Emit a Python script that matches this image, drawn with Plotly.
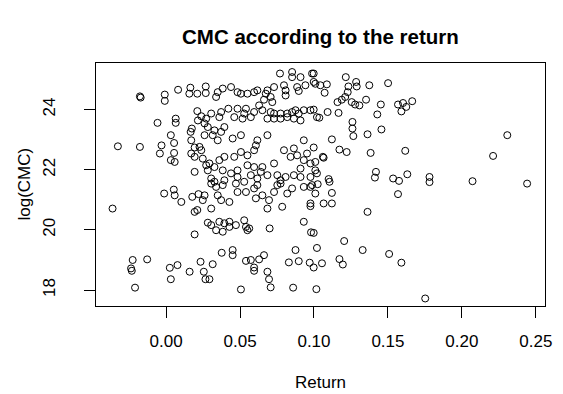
import plotly.graph_objects as go

# Annual return of each asset and the log of its market capitalisation
returns = [
    -0.0177, -0.0172, -0.0009, -0.0009, 0.0081, 0.0164, 0.0157, 0.0211, 0.0268, 0.0268,
    -0.0058, 0.0065, 0.0065, 0.0211, 0.0238, 0.0215, 0.0260, 0.0032, 0.0174, 0.0166,
    0.0260, -0.0326, -0.0177, -0.0031, -0.0042, 0.0054, 0.0054, 0.0032, 0.0058, 0.0170,
    0.0193, 0.0226, 0.0238, 0.0170, 0.0193, 0.0248, 0.0193, 0.0271,
    -0.0362, -0.0013, 0.0052, 0.0058, 0.0103, 0.0177, 0.0219, 0.0248, 0.0260, 0.0193,
    0.0211, 0.0282, 0.0193, -0.0226, -0.0128, -0.0237, -0.0232, 0.0025, 0.0077, 0.0032,
    0.0159, 0.0233, 0.0255, 0.0266, -0.0210,
    0.0998, 0.1215, 0.1009, 0.1043, 0.1087, 0.1233, 0.1285, 0.1289, 0.1072, 0.1228,
    0.1374, 0.1501, 0.1211, 0.1188, 0.1159, 0.1255, 0.1278, 0.1307, 0.1352, 0.1452,
    0.1568, 0.1602, 0.1624, 0.1591, 0.1664, 0.0998, 0.1036, 0.1092, 0.1166, 0.1428,
    0.1260, 0.1260, 0.1266, 0.1362, 0.1456, 0.1121, 0.0998, 0.1172, 0.1221, 0.1383,
    0.1617, 0.1060, 0.1065, 0.1009, 0.1009, 0.1419, 0.1412, 0.1631, 0.1535, 0.1575,
    0.1099, 0.1105,
    0.1025, 0.1009, 0.1121, 0.1065, 0.1121, 0.1568, 0.1362, 0.0998, 0.1204, 0.1020,
    0.1329, 0.1508, 0.1172, 0.1195, 0.1591, 0.1054, 0.0998, 0.1016, 0.1752,
    0.2307, 0.2211, 0.1781, 0.1781, 0.2072, 0.2441,
    0.0305, 0.0338, 0.0383, 0.0349, 0.0372, 0.0305, 0.0428, 0.0483, 0.0472, 0.0528,
    0.0540, 0.0595, 0.0617, 0.0607, 0.0651, 0.0685, 0.0696, 0.0730, 0.0752, 0.0774,
    0.0819, 0.0852, 0.0785, 0.0931, 0.0976, 0.0976, 0.0976,
    0.0305, 0.0338, 0.0360, 0.0383, 0.0394, 0.0428, 0.0428, 0.0472, 0.0528, 0.0540,
    0.0550, 0.0562, 0.0700, 0.0931, 0.0980,
    0.0376, 0.0450, 0.0450, 0.0540, 0.0573, 0.0595, 0.0595, 0.0629, 0.0662, 0.0315,
    0.0685, 0.0696, 0.0830, 0.0875, 0.0897, 0.0971, 0.0293,
    0.0506, 0.0707, 0.0859,
    0.0770, 0.0852, 0.0852, 0.0909, 0.0987, 0.0998, 0.0942, 0.0886, 0.0897, 0.0797,
    0.0808, 0.0730, 0.0685, 0.0674, 0.0617, 0.0595, 0.0550, 0.0483, 0.0506, 0.0439,
    0.0383, 0.0349, 0.0338, 0.0662, 0.0707, 0.0808, 0.0718,
    0.0421, 0.0483, 0.0540, 0.0595, 0.0629, 0.0651, 0.0707, 0.0730, 0.0774, 0.0819,
    0.0852, 0.0875, 0.0897, 0.0931, 0.0976, 0.1020, 0.0305, 0.0271, 0.0372, 0.0360,
    0.0461, 0.0517, 0.0573, 0.0528, 0.0685, 0.0730, 0.0774, 0.0819, 0.0864, 0.0909,
    0.0282, 0.0327, 0.0315, 0.0372, 0.0394, 0.0349, 0.0450, 0.0506, 0.0617, 0.0685,
    0.0607, 0.0595, 0.0550, 0.0506, 0.0461, 0.0797, 0.0864, 0.0931, 0.0953, 0.0886,
    0.0842, 0.0931, 0.0976,
    0.0293, 0.0360, 0.0394, 0.0282, 0.0327, 0.0383, 0.0439, 0.0483, 0.0550, 0.0595,
    0.0651, 0.0640, 0.0685, 0.0730, 0.0752, 0.0808, 0.0864, 0.0909, 0.0909, 0.0976,
    0.1020, 0.0987, 0.0305, 0.0327, 0.0394, 0.0483, 0.0573, 0.0617, 0.0774,
]

log_cmc = [
    24.44, 24.40, 24.50, 24.29, 24.66, 24.73, 24.53, 24.53, 24.77, 24.55,
    23.56, 23.70, 23.56, 23.95, 23.78, 23.64, 23.54, 23.15, 23.37, 23.26,
    23.15, 22.78, 22.76, 22.81, 22.54, 22.89, 22.56, 22.32, 22.26, 22.98,
    22.74, 22.76, 22.65, 22.54, 22.43, 22.37, 21.93, 22.15,
    20.71, 21.21, 21.34, 21.15, 20.93, 21.10, 21.19, 20.99, 21.15, 20.60,
    20.66, 20.24, 19.85, 19.00, 19.02, 18.72, 18.64, 18.74, 18.83, 18.36,
    18.61, 18.94, 18.61, 18.36, 18.08,
    25.20, 25.08, 24.86, 24.81, 24.84, 24.77, 24.92, 24.77, 24.56, 24.58,
    24.81, 24.88, 24.42, 24.33, 24.25, 24.25, 24.17, 24.14, 24.33, 24.17,
    24.17, 24.22, 24.09, 23.94, 24.28, 24.00, 23.73, 23.92, 23.89, 23.84,
    23.59, 23.37, 23.12, 23.18, 23.34, 23.01, 22.74, 22.67, 22.59, 22.56,
    22.63, 22.43, 22.40, 22.26, 21.98, 21.93, 21.74, 21.85, 21.71, 21.63,
    21.69, 21.60,
    21.52, 21.21, 21.23, 20.88, 20.88, 21.19, 20.60, 19.90, 19.63, 19.40,
    19.33, 19.20, 19.03, 18.85, 18.91, 18.89, 18.75, 18.03, 17.72,
    23.15, 22.46, 21.76, 21.59, 21.62, 21.54,
    21.54, 21.43, 21.49, 21.15, 20.99, 20.71, 20.93, 21.26, 21.54, 21.60,
    21.26, 21.38, 21.49, 21.05, 21.15, 20.71, 20.99, 21.26, 21.49, 21.54,
    21.21, 21.38, 20.77, 21.43, 21.43, 20.88, 20.79,
    20.16, 19.99, 20.27, 19.94, 20.22, 20.27, 20.10, 20.16, 20.32, 20.10,
    19.99, 20.05, 20.05, 20.27, 19.92,
    19.24, 19.33, 19.16, 18.97, 19.00, 18.75, 18.64, 19.02, 19.16, 18.86,
    18.61, 18.36, 18.92, 19.33, 18.96, 18.91, 18.36,
    18.02, 18.09, 18.08,
    25.20, 25.25, 25.08, 25.08, 25.20, 24.92, 24.81, 24.75, 24.62, 24.81,
    24.64, 24.75, 24.64, 24.53, 24.64, 24.58, 24.53, 24.58, 24.53, 24.75,
    24.70, 24.58, 24.42, 24.33, 24.42, 24.47, 24.25,
    24.03, 24.03, 24.03, 23.92, 24.14, 23.98, 23.92, 23.87, 23.87, 23.87,
    23.92, 23.98, 23.87, 23.98, 23.98, 23.75, 23.87, 23.70, 23.92, 23.75,
    23.75, 23.70, 23.75, 23.87, 23.70, 23.70, 23.70, 23.75, 23.70, 23.64,
    23.42, 23.31, 23.15, 23.26, 23.42, 22.98, 23.04, 23.15, 22.98, 23.15,
    22.81, 22.65, 22.48, 22.59, 22.43, 22.65, 22.71, 22.98, 22.54, 22.48,
    22.43, 22.32, 22.21,
    22.21, 22.32, 22.43, 21.98, 22.09, 21.98, 21.88, 21.98, 22.15, 22.09,
    22.09, 21.93, 21.82, 22.21, 21.82, 21.76, 21.82, 22.04, 21.76, 21.76,
    21.88, 21.49, 21.71, 21.60, 21.65, 21.76, 21.82, 21.71, 21.65,
]

x_ticks = [0.00, 0.05, 0.10, 0.15, 0.20, 0.25]
x_tick_text = ["0.00", "0.05", "0.10", "0.15", "0.20", "0.25"]
y_ticks = [18, 20, 22, 24]
y_tick_text = ["18", "20", "22", "24"]

FONT = "Liberation Sans, Arial, Helvetica, sans-serif"

fig = go.Figure(
    go.Scatter(
        x=returns,
        y=log_cmc,
        mode="markers",
        marker=dict(symbol="circle-open", size=7, color="black",
                    line=dict(width=1, color="black")),
        hoverinfo="x+y",
    )
)

axis_common = dict(
    showline=True, linecolor="black", linewidth=1, mirror=True,
    showgrid=False, zeroline=False,
    ticks="outside", ticklen=11, tickwidth=1, tickcolor="black",
    tickfont=dict(family=FONT, size=17, color="black"),
)

fig.update_xaxes(
    range=[-0.0474, 0.2562], tickmode="array",
    tickvals=x_ticks, ticktext=x_tick_text, ticklabelstandoff=9, **axis_common,
)
fig.update_yaxes(
    range=[17.47, 25.55], tickmode="array",
    tickvals=y_ticks, ticktext=y_tick_text, tickangle=-90,
    ticklabelstandoff=22, **axis_common,
)

fig.update_layout(
    width=563, height=394,
    margin=dict(l=96, r=18, t=63, b=88, pad=0),
    paper_bgcolor="white", plot_bgcolor="white",
    showlegend=False,
    annotations=[
        dict(text="<b>CMC according to the return</b>", xref="paper", yref="paper",
             x=0.5, y=1, xanchor="center", yanchor="middle", yshift=27,
             showarrow=False, font=dict(family=FONT, size=20.5, color="black")),
        dict(text="Return", xref="paper", yref="paper",
             x=0.5, y=0, xanchor="center", yanchor="middle", yshift=-76,
             showarrow=False, font=dict(family=FONT, size=17, color="black")),
        dict(text="log(CMC)", xref="paper", yref="paper",
             x=0, y=0.5, xanchor="center", yanchor="middle", xshift=-72,
             textangle=-90, showarrow=False,
             font=dict(family=FONT, size=17, color="black")),
    ],
)

fig.write_html("out.html")
